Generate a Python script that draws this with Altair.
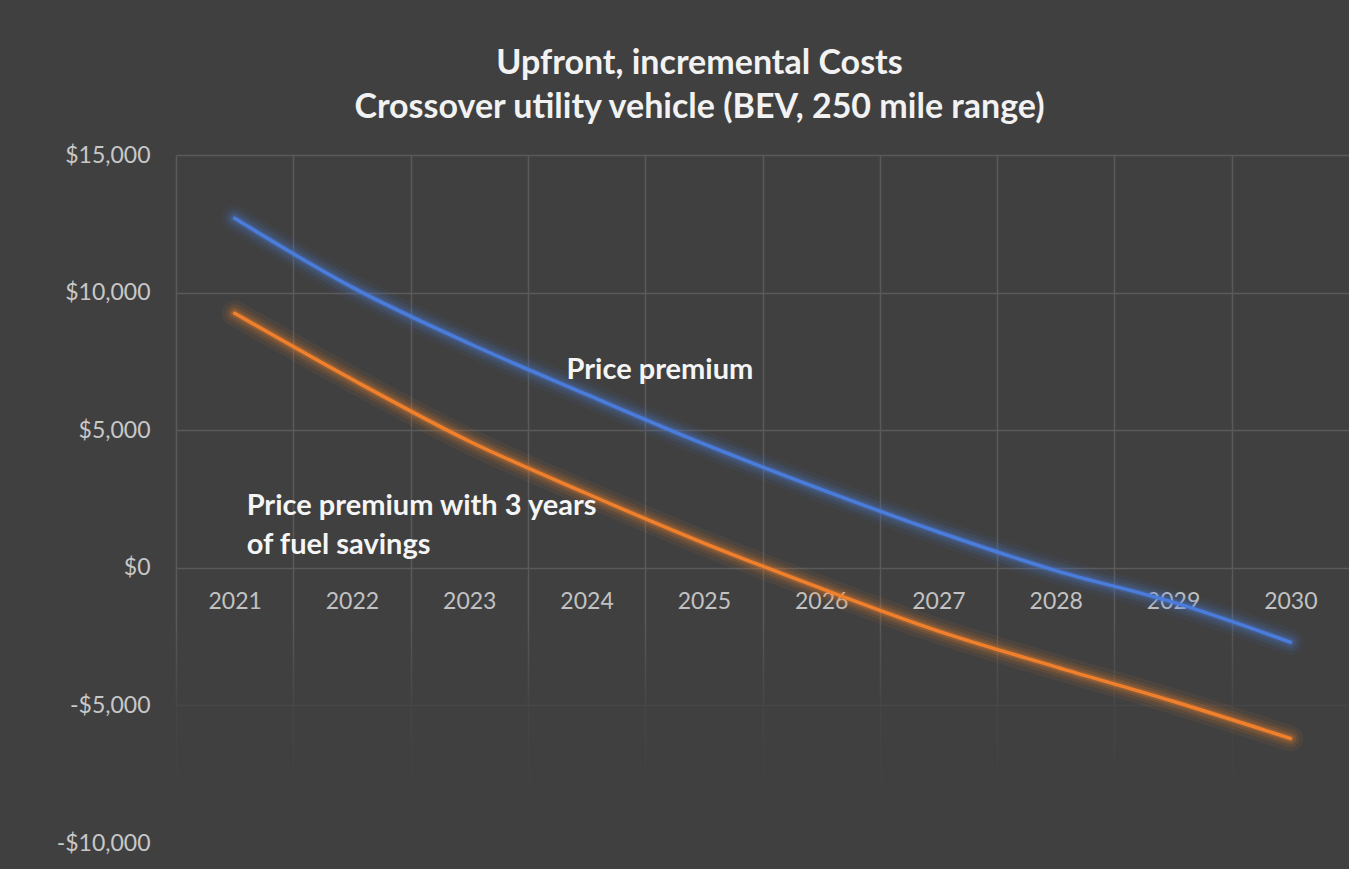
import altair as alt
import pandas as pd

# Upfront incremental cost of a 250-mile BEV crossover vs. a conventional one
years = ["2021", "2022", "2023", "2024", "2025", "2026", "2027", "2028", "2029", "2030"]
price_premium = [12700, 10200, 8150, 6300, 4500, 2850, 1300, -100, -1250, -2700]
premium_with_fuel = [9250, 6850, 4600, 2700, 900, -750, -2300, -3600, -4850, -6200]
series_names = ["Price premium", "Price premium with 3 years of fuel savings"]
series_colors = ["#4A7CDB", "#F0802C"]

rows = []
for name, vals in zip(series_names, [price_premium, premium_with_fuel]):
    for y, v in zip(years, vals):
        rows.append({"year": y, "series": name, "value": v})
df = pd.DataFrame(rows)

W, H = 1173, 688
BG = "#404040"
GRID = "#5A5A5A"
band = W / len(years)

x_enc = alt.X(
    "year:N",
    sort=years,
    scale=alt.Scale(paddingInner=0, paddingOuter=0),
    axis=alt.Axis(
        title=None, orient="bottom", offset=-275, domain=False, ticks=False,
        labelAngle=0, labelFontSize=23, labelColor="#C2C2C2", labelFont="Lato",
        labelPadding=22, grid=True, gridColor=GRID, gridWidth=1.5,
        tickOffset=-band / 2, labelOffset=band / 2,
    ),
)
y_enc = alt.Y(
    "value:Q",
    scale=alt.Scale(domain=[-10000, 15000], nice=False, zero=False),
    axis=alt.Axis(
        title=None, values=[-10000, -5000, 0, 5000, 10000, 15000], grid=True,
        domain=False, ticks=False, labelFontSize=23, labelColor="#C8C8C8",
        labelFont="Lato", labelPadding=26, gridColor=GRID, gridWidth=1.5,
        labelExpr="datum.value < 0 ? '-$' + format(-datum.value, ',') : '$' + format(datum.value, ',')",
    ),
)
color_enc = alt.Color(
    "series:N", scale=alt.Scale(domain=series_names, range=series_colors), legend=None
)

base = alt.Chart(df).encode(x=x_enc, y=y_enc, color=color_enc, detail="series:N")

# soft fade of the plot area below the category labels
fade = alt.Chart(pd.DataFrame({"k": [0]})).mark_rect(
    color=alt.Gradient(
        gradient="linear", x1=0, y1=0, x2=0, y2=1,
        stops=[
            alt.GradientStop(color="rgba(64,64,64,0)", offset=0),
            alt.GradientStop(color="rgba(64,64,64,0.8)", offset=0.4),
            alt.GradientStop(color="rgba(64,64,64,0.93)", offset=0.65),
            alt.GradientStop(color="rgba(64,64,64,1)", offset=0.9),
            alt.GradientStop(color="rgba(64,64,64,1)", offset=1),
        ],
    )
).encode(
    x=alt.value(-2), x2=alt.value(W + 2),
    y=alt.datum(-1700, type="quantitative"), y2=alt.datum(-10300),
)

glow_layers = [
    base.mark_line(interpolate="monotone", strokeWidth=w, opacity=o, strokeCap="round")
    for w, o in [(26, 0.07), (18, 0.1), (12, 0.15), (7, 0.25)]
]
main_line = base.mark_line(interpolate="monotone", strokeWidth=3.5, strokeCap="round")

labels_df = pd.DataFrame({
    "year": ["2024", "2021"],
    "value": [7200, 2250],
    "text": [["Price premium"], ["Price premium with 3 years", "of fuel savings"]],
})
label_a = alt.Chart(labels_df.iloc[[0]]).mark_text(
    align="left", baseline="middle", font="Lato", fontWeight="bold",
    fontSize=29, color="#F5F5F5", dx=-20,
).encode(x=alt.X("year:N", sort=years), y="value:Q", text="text")
label_b = alt.Chart(labels_df.iloc[[1]]).mark_text(
    align="left", baseline="middle", font="Lato", fontWeight="bold",
    fontSize=29, color="#F5F5F5", dx=12, lineHeight=39,
).encode(x=alt.X("year:N", sort=years), y="value:Q", text="text")

chart = alt.layer(fade, *glow_layers, main_line, label_a, label_b).properties(
    width=W, height=H,
    autosize=alt.AutoSizeParams(type="none"),
    padding={"left": 176, "top": 155, "right": 0, "bottom": 26},
    background=BG,
    title=alt.TitleParams(
        ["Upfront, incremental Costs", "Crossover utility vehicle (BEV, 250 mile range)"],
        font="Lato", fontSize=34, fontWeight="bold", color="#F2F2F2",
        anchor="middle", dx=-63, offset=19, lineHeight=44,
    ),
).configure_view(stroke=None)

chart.save("out.html", embed_options={"renderer": "svg", "actions": False})
